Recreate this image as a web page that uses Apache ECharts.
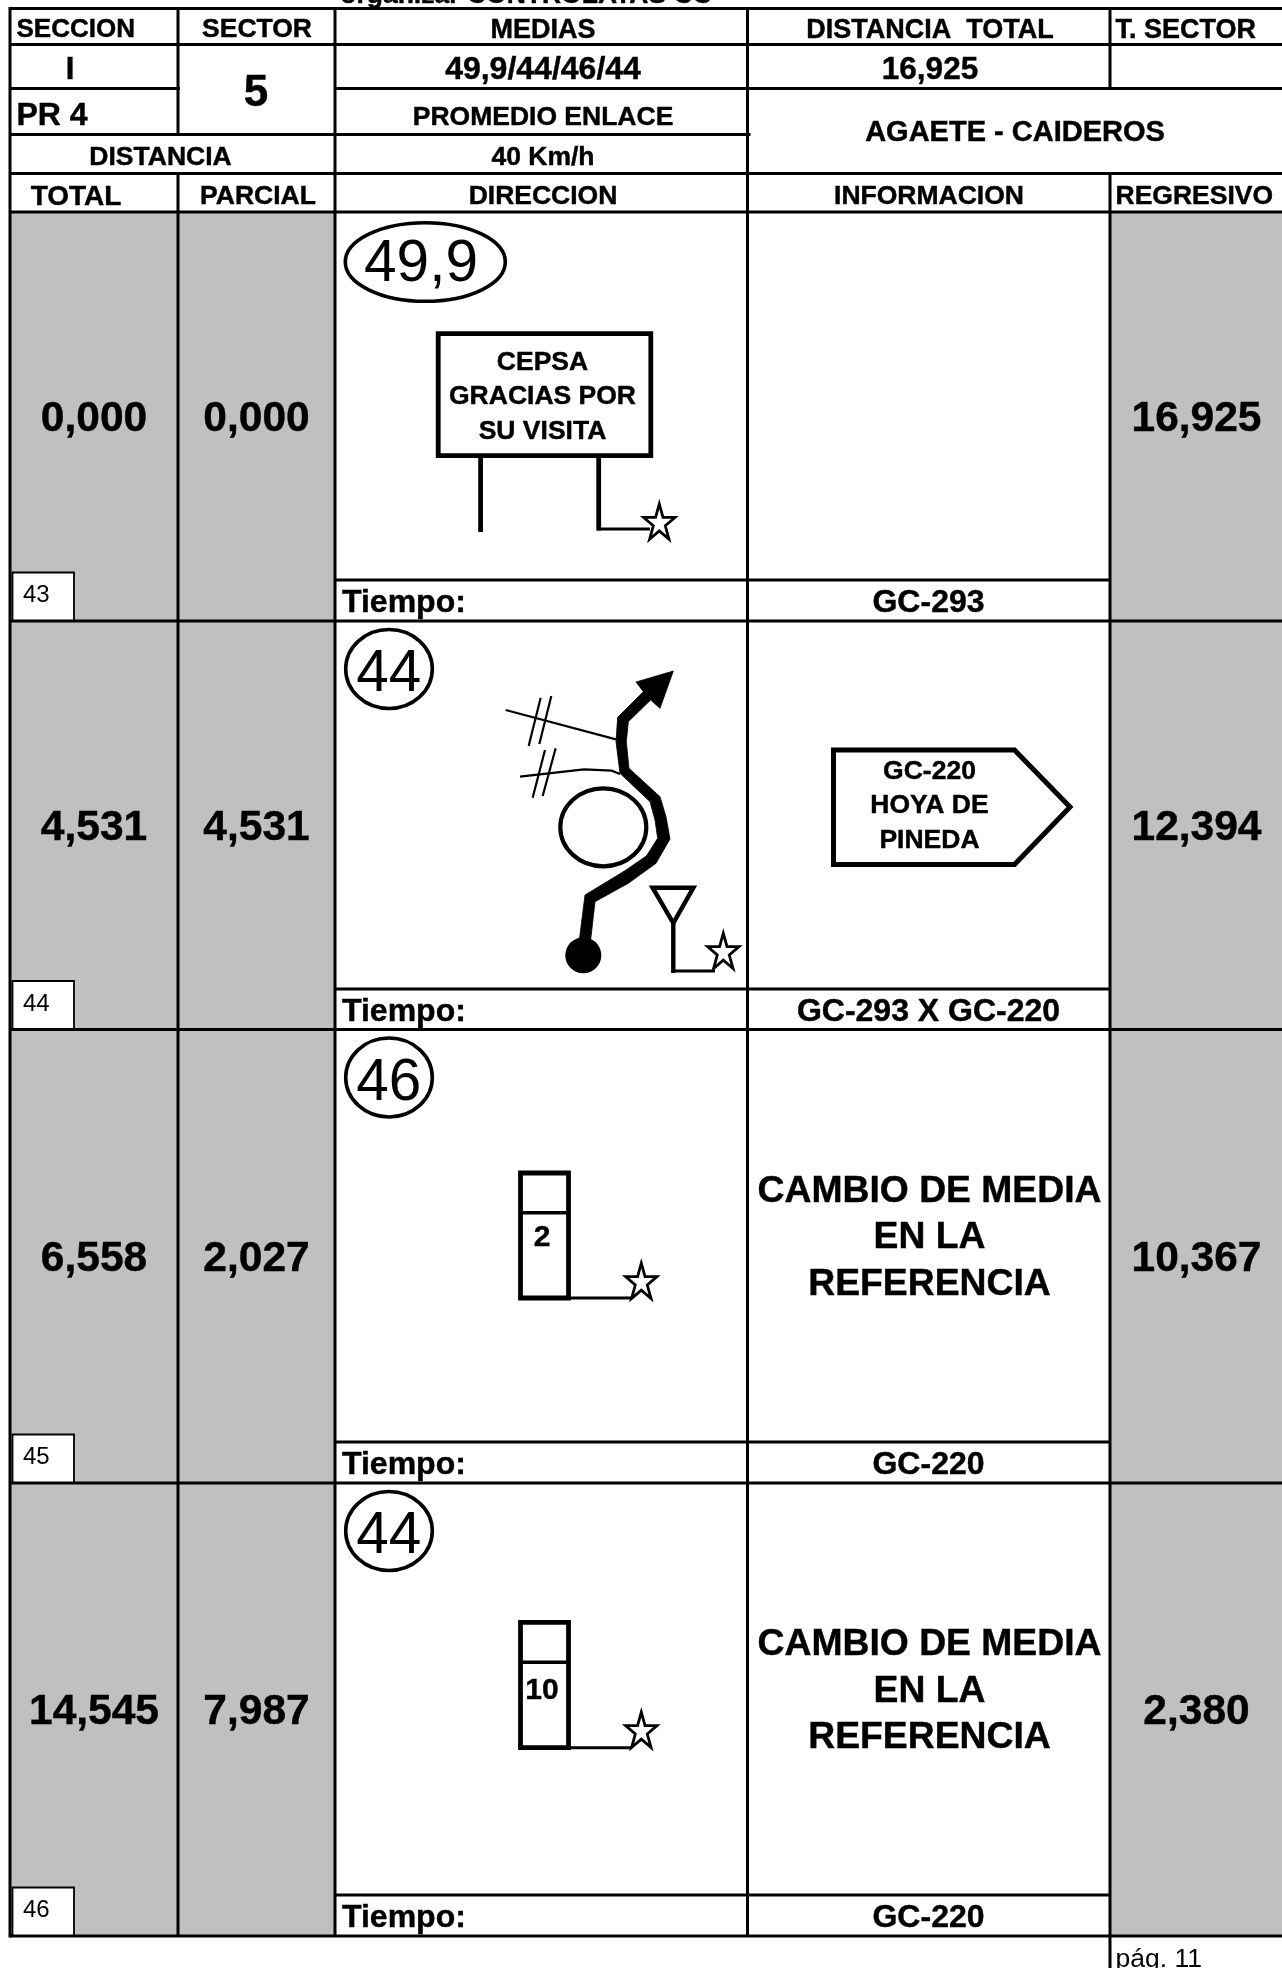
<!DOCTYPE html>
<html>
<head>
<meta charset="utf-8">
<style>html,body{margin:0;padding:0;background:#fff}#chart{width:1282px;height:1968px}</style>
<script src="https://cdn.jsdelivr.net/npm/echarts@6/dist/echarts.min.js"></script>
</head>
<body>
<div id="chart"></div>
<script>
// ---- values read from the sheet ----
const topCaption = 'organizar CONTROLATAS CC';
const headerTitles = ['SECCION', 'SECTOR', 'MEDIAS', 'DISTANCIA  TOTAL', 'T. SECTOR'];
const columnTitles = ['TOTAL', 'PARCIAL', 'DIRECCION', 'INFORMACION', 'REGRESIVO'];
const sectionName = 'I';
const stageName = 'PR 4';
const sectorNumber = '5';
const averagesLine = '49,9/44/46/44';
const totalDistance = '16,925';
const linkLabel = 'PROMEDIO ENLACE';
const linkSpeed = '40 Km/h';
const distanceLabel = 'DISTANCIA';
const routeName = 'AGAETE - CAIDEROS';
const timeLabel = 'Tiempo:';
const pageLabel = 'pág. 11';

const totalKm = ['0,000', '4,531', '6,558', '14,545'];
const partialKm = ['0,000', '4,531', '2,027', '7,987'];
const regressiveKm = ['16,925', '12,394', '10,367', '2,380'];
const speedBadges = ['49,9', '44', '46', '44'];
const roadRefs = ['GC-293', 'GC-293 X GC-220', 'GC-220', 'GC-220'];
const noteNumbers = ['43', '44', '45', '46'];
const billboardLines = ['CEPSA', 'GRACIAS POR', 'SU VISITA'];
const arrowSignLines = ['GC-220', 'HOYA DE', 'PINEDA'];
const changeLines = ['CAMBIO DE MEDIA', 'EN LA', 'REFERENCIA'];
const milestoneNumbers = ['2', '10'];

// ---- sheet layout, in page units of the hidden axes ----
const W = 1282, H = 1968;
const X = { l: 10, a: 178, b: 335, c: 747.5, d: 1110, r: 1282 };
const rowTop = [212, 621, 1029.5, 1483];
const rowBot = [621, 1029.5, 1483, 1936];
const timeTop = [580, 989, 1442, 1895];
const FONT = '"Liberation Sans", Arial, sans-serif';
const TEXT_DROP = 2.6;

const fills = [
  [X.l, 212, X.b, 1936], [X.d, 212, X.r, 1936]
];
const rules = [
  [X.l, 8.5, X.r, 8.5], [X.l, 44.5, X.r, 44.5],
  [X.l, 88.5, X.a + 2, 88.5], [X.b, 88.5, X.r, 88.5],
  [X.l, 134.5, X.c + 3, 134.5],
  [X.l, 173.5, X.r, 173.5], [X.l, 212, X.r, 212],
  [X.l, 7, X.l, 1937.5], [X.a, 7, X.a, 134.5], [X.a, 173.5, X.a, 1936],
  [X.b, 7, X.b, 1936], [X.c, 7, X.c, 1936],
  [X.d, 7, X.d, 88.5], [X.d, 173.5, X.d, H]
];
rowBot.forEach(function (y) { rules.push([X.l, y, X.r, y]); });
timeTop.forEach(function (y) { rules.push([X.b, y, X.d, y]); });

// Text items
const texts = [];
function T(text, x, y, size, bold, align) {
  texts.push({ text: text, x: x, y: y + TEXT_DROP, size: size, bold: bold !== false, align: align || 'center' });
}
T(topCaption, 526, -6.5, 26.5);
T(headerTitles[0], 16.5, 27.5, 26, true, 'left');
T(headerTitles[1], 257, 27.5, 26.5);
T(headerTitles[2], 543, 27.5, 27);
T(headerTitles[3], 930, 27.5, 27);
T(headerTitles[4], 1115.5, 27.5, 27, true, 'left');
T(sectionName, 70, 68, 31);
T(sectorNumber, 256, 91, 44);
T(averagesLine, 543, 67.5, 32);
T(totalDistance, 930, 67.5, 31.5);
T(stageName, 16.5, 114, 32, true, 'left');
T(linkLabel, 543, 115, 26.5);
T(routeName, 1015, 130, 29);
T(distanceLabel, 160.5, 155, 26.5);
T(linkSpeed, 543, 155, 26.5);
T(columnTitles[0], 76, 194.5, 28);
T(columnTitles[1], 258, 194.5, 26.5);
T(columnTitles[2], 543, 194.5, 26.5);
T(columnTitles[3], 929, 194.5, 26.5);
T(columnTitles[4], 1115.5, 194.5, 26.5, true, 'left');
T(pageLabel, 1115.5, 1957, 26.5, false, 'left');

rowTop.forEach(function (top, i) {
  const mid = (top + rowBot[i]) / 2;
  T(totalKm[i], 94, mid, 42.5);
  T(partialKm[i], 256.5, mid, 42.5);
  T(regressiveKm[i], 1196.5, mid, 42.5);
  T(timeLabel, 342, (timeTop[i] + rowBot[i]) / 2, 32, true, 'left');
  T(roadRefs[i], 928.5, (timeTop[i] + rowBot[i]) / 2 + 0.5, 32);
  T(noteNumbers[i], 23, rowBot[i] - 28, 24, false, 'left');
});
const badgeCx = [421, 388.7, 388.7, 388.7];
const badgeCy = [262.5, 672.5, 1081.5, 1534.5];
speedBadges.forEach(function (s, i) { T(s, badgeCx[i], badgeCy[i], 58.5, false); });

billboardLines.forEach(function (s, i) { T(s, 542.5, [360, 394, 429][i], 26.5); });
arrowSignLines.forEach(function (s, i) { T(s, 929.5, [769, 803, 838][i], 26.5); });
changeLines.forEach(function (s, i) {
  T(s, 929.5, [1189, 1235.5, 1282][i], 37.3);
  T(s, 929.5, [1642, 1689, 1735][i], 37.3);
});
T(milestoneNumbers[0], 542, 1235, 30);
T(milestoneNumbers[1], 542, 1688, 30);

// Line-art
function star(cx, cy) {
  const pts = [], Rx = 16.5, Ry = 19.5;
  for (let k = 0; k < 10; k++) {
    const a = -Math.PI / 2 + k * Math.PI / 5, f = k % 2 ? 0.382 : 1;
    pts.push([cx + Rx * f * Math.cos(a), cy + Ry * f * Math.sin(a)]);
  }
  return pts;
}
function zoomed(ox, oy, arr) { return arr.map(function (q) { return [ox + q[0] / 3, oy + q[1] / 3]; }); }

const glyphs = [];
function G(type, shape, style) { glyphs.push({ type: type, shape: shape, style: style }); }
const sBlack = function (w) { return { stroke: '#000', lineWidth: w, fill: 'none' }; };
const sBox = function (w) { return { stroke: '#000', lineWidth: w, fill: '#fff' }; };

// small note boxes
rowBot.forEach(function (y) {
  G('rect', { x: 12.5, y: y - 48.5, width: 61.5, height: 48 }, { stroke: '#000', lineWidth: 1.8, fill: '#fff' });
});
// speed badges
G('ellipse', { cx: 425.3, cy: 262, rx: 80, ry: 39.3 }, sBlack(3.6));
G('ellipse', { cx: 389, cy: 669, rx: 43.3, ry: 39.5 }, sBlack(3.6));
G('ellipse', { cx: 389, cy: 1077.5, rx: 43.3, ry: 39.5 }, sBlack(3.6));
G('ellipse', { cx: 389, cy: 1531, rx: 43.3, ry: 39.5 }, sBlack(3.6));
// billboard
G('rect', { x: 438.2, y: 333.7, width: 212.6, height: 122 }, sBox(4.8));
G('line', { x1: 480.6, y1: 456, x2: 480.6, y2: 532 }, sBlack(4.8));
G('line', { x1: 598.7, y1: 456, x2: 598.7, y2: 530.5 }, sBlack(4.8));
G('line', { x1: 597, y1: 529, x2: 650, y2: 529 }, sBlack(3));
G('polygon', { points: star(659.3, 523.5) }, sBox(2.8));
// arrow sign
G('polygon', { points: [[833.5, 750], [1014.5, 750], [1070, 807], [1014.5, 864.5], [833.5, 864.5]] }, sBox(5));
// road diagram
const roadOutline = [[748,960],[765,825],[885,752],[950,707],[983,655],[975,600],[960,545],[870,460],[858,365],[863,292],[940,215],[918,186],[1030,153],[990,265],[962,240],[895,305],[889,365],[897,445],[990,530],[1008,590],[1020,657],[978,730],[895,790],[795,845],[782,960]];
G('polygon', { points: zoomed(330, 620, roadOutline) }, { fill: '#000', stroke: '#000', lineWidth: 0.8 });
G('circle', { cx: 583.3, cy: 955.3, r: 18 }, { fill: '#000', stroke: 'none' });
G('ellipse', { cx: 603.3, cy: 827.3, rx: 43, ry: 39 }, sBlack(4.2));
[[[527,270],[858,358]], [[632,233],[596,378]], [[664,228],[628,372]],
 [[570,470],[762,448],[845,452],[870,462]], [[645,390],[608,533]], [[677,385],[638,528]]].forEach(function (seg) {
  G('polyline', { points: zoomed(330, 620, seg) }, sBlack(2.2));
});
G('polygon', { points: [[652.6, 887.7], [693.4, 887.7], [673.3, 923]] }, sBox(4.4));
G('line', { x1: 673.3, y1: 922, x2: 673.3, y2: 973 }, sBlack(4.4));
G('line', { x1: 672, y1: 971, x2: 715, y2: 971 }, sBlack(3));
G('polygon', { points: star(723.3, 952.7) }, sBox(2.8));
// milestone posts
[[1173, 1212.7, 1298, 1282.7], [1622.3, 1662.3, 1747.7, 1731.7]].forEach(function (m) {
  G('rect', { x: 520.5, y: m[0], width: 48, height: m[2] - m[0] }, sBox(4.8));
  G('line', { x1: 520, y1: m[1], x2: 569, y2: m[1] }, sBlack(3.4));
  G('line', { x1: 570, y1: m[2], x2: 632, y2: m[2] }, sBlack(3));
  G('polygon', { points: star(641.3, m[3]) }, sBox(2.8));
});

const chart = echarts.init(document.getElementById('chart'), null, { renderer: 'canvas', width: W, height: H });
chart.setOption({
  animation: false,
  backgroundColor: '#ffffff',
  tooltip: { show: false },
  grid: { left: 0, right: 0, top: 0, bottom: 0, containLabel: false },
  xAxis: { type: 'value', min: 0, max: W, show: false },
  yAxis: { type: 'value', min: 0, max: H, inverse: true, show: false },
  series: [
    {
      type: 'custom', z: 1, silent: true, clip: false, coordinateSystem: 'cartesian2d',
      data: fills,
      encode: { x: [0, 2], y: [1, 3] },
      renderItem: function (params, api) {
        const a = api.coord([api.value(0), api.value(1)]), b = api.coord([api.value(2), api.value(3)]);
        return { type: 'rect', shape: { x: a[0], y: a[1], width: b[0] - a[0], height: b[1] - a[1] }, style: { fill: '#c0c0c0' } };
      }
    },
    {
      type: 'custom', z: 2, silent: true, clip: false, coordinateSystem: 'cartesian2d',
      data: rules,
      encode: { x: [0, 2], y: [1, 3] },
      renderItem: function (params, api) {
        const a = api.coord([api.value(0), api.value(1)]), b = api.coord([api.value(2), api.value(3)]);
        return { type: 'line', shape: { x1: a[0], y1: a[1], x2: b[0], y2: b[1] }, style: { stroke: '#000', lineWidth: 3 } };
      }
    },
    {
      type: 'custom', z: 3, silent: true, clip: false, coordinateSystem: 'cartesian2d',
      data: glyphs.map(function (g, i) { return [i, 0]; }),
      encode: { x: 0, y: 1 },
      renderItem: function (params, api) {
        const g = glyphs[params.dataIndex], s = Object.assign({}, g.shape);
        const c = function (x, y) { return api.coord([x, y]); };
        if (s.points) { s.points = s.points.map(function (q) { return c(q[0], q[1]); }); }
        else if (s.x !== undefined) { const a = c(s.x, s.y); s.x = a[0]; s.y = a[1]; }
        else if (s.x1 !== undefined) { const a = c(s.x1, s.y1), b = c(s.x2, s.y2); s.x1 = a[0]; s.y1 = a[1]; s.x2 = b[0]; s.y2 = b[1]; }
        else { const a = c(s.cx, s.cy); s.cx = a[0]; s.cy = a[1]; }
        return { type: g.type, shape: s, style: g.style };
      }
    },
    {
      type: 'custom', z: 4, silent: true, clip: false, coordinateSystem: 'cartesian2d',
      data: texts.map(function (t) { return [t.x, t.y]; }),
      encode: { x: 0, y: 1 },
      renderItem: function (params, api) {
        const t = texts[params.dataIndex], p = api.coord([t.x, t.y]);
        return {
          type: 'text', x: p[0], y: p[1],
          style: {
            text: t.text, fill: '#000',
            stroke: t.bold ? '#000' : null, lineWidth: t.bold ? 0.45 : 0,
            font: (t.bold ? 'bold ' : '') + t.size + 'px ' + FONT,
            align: t.align, verticalAlign: 'middle'
          }
        };
      }
    }
  ]
});
</script>
</body>
</html>
